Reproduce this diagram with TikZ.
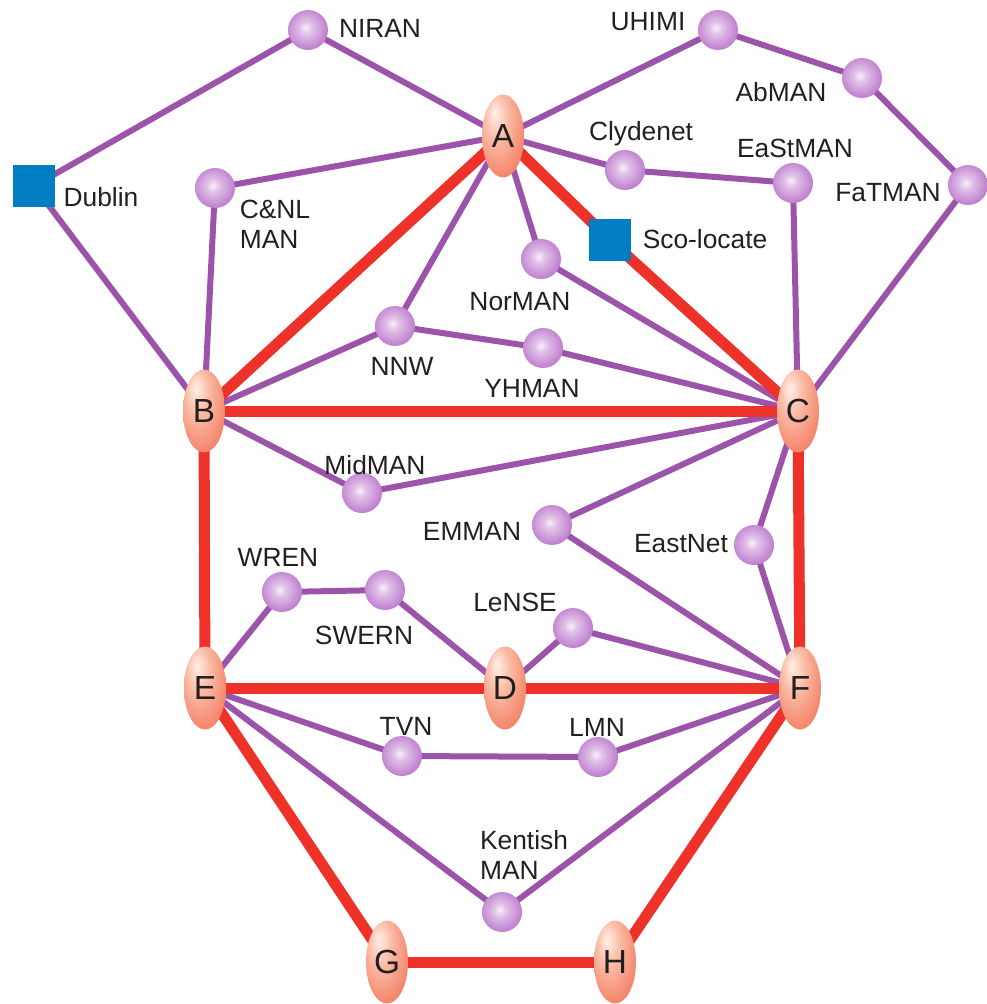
\documentclass[tikz,border=0pt]{standalone}
\usepackage{fontspec}
\setmainfont{Liberation Sans}
\usetikzlibrary{shapes.geometric,backgrounds}

\definecolor{netpurple}{RGB}{155,84,170}
\definecolor{netred}{RGB}{238,50,42}
\definecolor{netblue}{RGB}{0,125,195}
\definecolor{nettext}{RGB}{35,31,32}
\definecolor{eggtop}{RGB}{255,240,232}
\definecolor{eggmid}{RGB}{247,158,128}
\definecolor{eggedge}{RGB}{236,62,44}
\definecolor{balltop}{RGB}{248,240,250}
\definecolor{ballmid}{RGB}{195,135,210}
\definecolor{balledge}{RGB}{152,78,170}

\pgfdeclareradialshading{eggshade}{\pgfpoint{-10bp}{14bp}}{color(0bp)=(eggtop); color(14bp)=(eggmid!65!eggtop); color(34bp)=(eggmid!70!eggedge); color(52bp)=(eggedge); color(70bp)=(eggedge)}
\pgfdeclareradialshading{ballshade}{\pgfpoint{-3bp}{3bp}}{color(0bp)=(balltop); color(8bp)=(ballmid!45!balltop); color(24bp)=(ballmid); color(46bp)=(balledge); color(70bp)=(balledge)}

\tikzset{
  popnode/.style={ellipse, minimum width=0.84cm, minimum height=1.66cm, inner sep=0pt,
    shading=eggshade, text=nettext, font=\fontsize{19}{19}\selectfont},
  mannode/.style={circle, minimum size=0.8cm, inner sep=0pt, shading=ballshade},
  sitebox/.style={rectangle, minimum size=0.84cm, inner sep=0pt, fill=netblue},
  tagtext/.style={text=nettext, inner sep=0pt, align=left, font=\fontsize{15}{17}\selectfont},
  linkline/.style={netpurple, line width=0.12cm},
  trunkline/.style={netred, line width=0.22cm},
}

\begin{document}
\begin{tikzpicture}[x=0.02cm, y=-0.02cm]
    \useasboundingbox (0,0) rectangle (987,1004);

    % core nodes
    \node[popnode] (A) at (503,136) {A};
    \node[popnode] (B) at (204,411) {B};
    \node[popnode] (C) at (798,411) {C};
    \node[popnode] (E) at (205,688) {E};
    \node[popnode] (D) at (505,688) {D};
    \node[popnode] (F) at (800,688) {F};
    \node[popnode] (G) at (387,962) {G};
    \node[popnode] (H) at (615,962) {H};

    % regional networks
    \node[mannode] (niran)    at (308,30)  {};
    \node[mannode] (uhimi)    at (718,30)  {};
    \node[mannode] (abman)    at (862,78)  {};
    \node[mannode] (fatman)   at (968,185) {};
    \node[mannode] (clydenet) at (625,170) {};
    \node[mannode] (eastman)  at (793,183) {};
    \node[mannode] (cnl)      at (215,188) {};
    \node[mannode] (norman)   at (541,259) {};
    \node[mannode] (nnw)      at (395,326) {};
    \node[mannode] (yhman)    at (543,348) {};
    \node[mannode] (midman)   at (362,493) {};
    \node[mannode] (emman)    at (552,525) {};
    \node[mannode] (eastnet)  at (754,545) {};
    \node[mannode] (wren)     at (282,592) {};
    \node[mannode] (swern)    at (385,590) {};
    \node[mannode] (lense)    at (573,628) {};
    \node[mannode] (tvn)      at (402,756) {};
    \node[mannode] (lmn)      at (598,757) {};
    \node[mannode] (kentish)  at (502,912) {};

    % other sites
    \node[sitebox] (dublin) at (34,186)  {};
    \node[sitebox] (scoloc) at (610,240) {};

    % names
    \node[tagtext] (niranT)    at (380,28)  {NIRAN};
    \node[tagtext] (uhimiT)    at (648,22)  {UHIMI};
    \node[tagtext] (abmanT)    at (781,92)  {AbMAN};
    \node[tagtext] (fatmanT)   at (888,193) {FaTMAN};
    \node[tagtext] (clydenetT) at (641,134) {Clydenet};
    \node[tagtext] (eastmanT)  at (795,148) {EaStMAN};
    \node[tagtext] (dublinT)   at (101,197) {Dublin};
    \node[tagtext] (scolocT)   at (705,239) {Sco-locate};
    \node[tagtext] (cnlT)      at (275,224) {C\&NL\\MAN};
    \node[tagtext] (normanT)   at (520,302) {NorMAN};
    \node[tagtext] (nnwT)      at (402,366) {NNW};
    \node[tagtext] (yhmanT)    at (532,388) {YHMAN};
    \node[tagtext] (midmanT)   at (375,465) {MidMAN};
    \node[tagtext] (emmanT)    at (472,531) {EMMAN};
    \node[tagtext] (eastnetT)  at (681,544) {EastNet};
    \node[tagtext] (lenseT)    at (515,602) {LeNSE};
    \node[tagtext] (wrenT)     at (278,557) {WREN};
    \node[tagtext] (swernT)    at (364,635) {SWERN};
    \node[tagtext] (tvnT)      at (406,726) {TVN};
    \node[tagtext] (lmnT)      at (597,727) {LMN};
    \node[tagtext] (kentishT)  at (524,855) {Kentish\\MAN};

    \begin{scope}[on background layer]
    % access links
    \draw[linkline] (dublin.center) -- (niran.center);
    \draw[linkline] (niran.center) -- (A.center);
    \draw[linkline] (dublin.center) -- (B.center);
    \draw[linkline] (A.center) -- (uhimi.center);
    \draw[linkline] (uhimi.center) -- (abman.center);
    \draw[linkline] (abman.center) -- (fatman.center);
    \draw[linkline] (fatman.center) -- (C.center);
    \draw[linkline] (A.center) -- (clydenet.center);
    \draw[linkline] (clydenet.center) -- (eastman.center);
    \draw[linkline] (eastman.center) -- (C.center);
    \draw[linkline] (A.center) -- (cnl.center);
    \draw[linkline] (cnl.center) -- (B.center);
    \draw[linkline] (A.center) -- (norman.center);
    \draw[linkline] (norman.center) -- (C.center);
    \draw[linkline] (A.center) -- (nnw.center);
    \draw[linkline] (nnw.center) -- (B.center);
    \draw[linkline] (nnw.center) -- (yhman.center);
    \draw[linkline] (yhman.center) -- (C.center);
    \draw[linkline] (B.center) -- (midman.center);
    \draw[linkline] (midman.center) -- (C.center);
    \draw[linkline] (C.center) -- (emman.center);
    \draw[linkline] (emman.center) -- (F.center);
    \draw[linkline] (C.center) -- (eastnet.center);
    \draw[linkline] (eastnet.center) -- (F.center);
    \draw[linkline] (E.center) -- (wren.center);
    \draw[linkline] (wren.center) -- (swern.center);
    \draw[linkline] (swern.center) -- (D.center);
    \draw[linkline] (D.center) -- (lense.center);
    \draw[linkline] (lense.center) -- (F.center);
    \draw[linkline] (E.center) -- (tvn.center);
    \draw[linkline] (tvn.center) -- (lmn.center);
    \draw[linkline] (lmn.center) -- (F.center);
    \draw[linkline] (E.center) -- (kentish.center);
    \draw[linkline] (kentish.center) -- (F.center);

    % core links
    \draw[trunkline] (A.center) -- (B.center);
    \draw[trunkline] (A.center) -- (scoloc.center);
    \draw[trunkline] (scoloc.center) -- (C.center);
    \draw[trunkline] (B.center) -- (C.center);
    \draw[trunkline] (B.center) -- (E.center);
    \draw[trunkline] (C.center) -- (F.center);
    \draw[trunkline] (E.center) -- (D.center);
    \draw[trunkline] (D.center) -- (F.center);
    \draw[trunkline] (E.center) -- (G.center);
    \draw[trunkline] (G.center) -- (H.center);
    \draw[trunkline] (H.center) -- (F.center);
    \end{scope}

\end{tikzpicture}
\end{document}
